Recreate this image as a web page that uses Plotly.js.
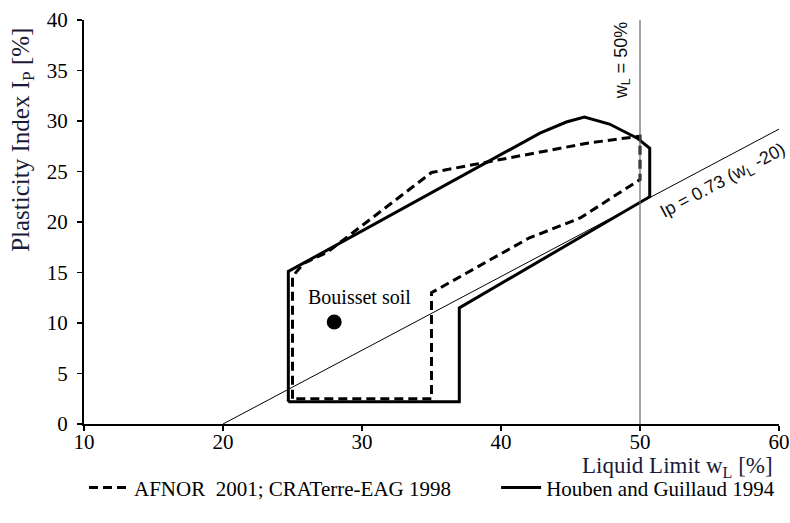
<!DOCTYPE html>
<html>
<head>
<meta charset="utf-8">
<script src="https://cdn.plot.ly/plotly-3.0.1.min.js"></script>
<style>html,body{margin:0;padding:0;background:#fff;}#chart{width:790px;height:523px;}</style>
</head>
<body>
<div id="chart"></div>
<script>
// AFNOR 2001; CRATerre-EAG 1998 (dashed zone)
var afnorWL = [25.0, 25.0, 25.8, 27.5, 35.0, 39.7, 46.2, 50.0, 50.0, 45.7, 42.0, 35.0, 35.0, 25.0];
var afnorIP = [2.5, 14.6, 15.9, 17.0, 24.9, 26.1, 27.8, 28.5, 24.2, 20.4, 18.4, 13.0, 2.5, 2.5];
// Houben and Guillaud 1994 (solid zone)
var houbenWL = [24.7, 24.7, 42.8, 44.7, 46.0, 47.8, 49.8, 50.7, 50.7, 37.0, 37.0, 24.7];
var houbenIP = [2.2, 15.1, 28.8, 29.9, 30.4, 29.7, 28.3, 27.3, 22.5, 11.5, 2.2, 2.2];
// A-line Ip = 0.73 (wL - 20)
var aLineWL = [20, 60];
var aLineIP = [0, 29.2];
// wL = 50 % line
var wl50WL = [50, 50];
var wl50IP = [0, 40];
// Bouisset soil
var soilWL = [28];
var soilIP = [10.1];
var soilName = "Bouisset soil";
var legendNames = ["AFNOR  2001; CRATerre-EAG 1998", "Houben and Guillaud 1994"];

var serif = "Liberation Serif, Times New Roman, serif";
var sans = "Liberation Sans, Arial, sans-serif";

var traces = [
  {x: afnorWL, y: afnorIP, mode: "lines", name: legendNames[0], legend: "legend",
   line: {color: "#000", width: 3, dash: "9px,5px"}, hoverinfo: "skip"},
  {x: houbenWL, y: houbenIP, mode: "lines", name: legendNames[1], legend: "legend2",
   line: {color: "#000", width: 3}, hoverinfo: "skip"},
  {x: aLineWL, y: aLineIP, mode: "lines", showlegend: false,
   line: {color: "#000", width: 1}},
  {x: wl50WL, y: wl50IP, mode: "lines", showlegend: false,
   line: {color: "#666", width: 1.2}},
  {x: soilWL, y: soilIP, mode: "markers", showlegend: false,
   marker: {color: "#000", size: 15, symbol: "circle"}}
];

var legendFont = {family: serif, size: 21, color: "#000"};

var layout = {
  width: 790, height: 523,
  margin: {l: 84, r: 11, t: 20, b: 99, autoexpand: false},
  paper_bgcolor: "#fff", plot_bgcolor: "#fff",
  font: {family: serif, size: 20, color: "#000"},
  xaxis: {range: [10, 60], dtick: 10, tick0: 10, showgrid: false, zeroline: false,
          showline: true, linecolor: "#000", linewidth: 2,
          ticks: "outside", ticklen: 5, tickwidth: 1.5, tickcolor: "#000",
          ticklabelstandoff: -7,
          tickfont: {family: serif, size: 21, color: "#000"}},
  yaxis: {range: [0, 40], dtick: 5, showgrid: false, zeroline: false,
          showline: true, linecolor: "#000", linewidth: 2,
          ticks: "outside", ticklen: 5, tickwidth: 1.5, tickcolor: "#000",
          ticklabelstandoff: 5,
          tickfont: {family: serif, size: 21, color: "#000"}},
  showlegend: true,
  legend: {orientation: "h", x: 0.0, xanchor: "left", y: -0.158, yanchor: "middle",
           font: legendFont, itemwidth: 40, bgcolor: "rgba(0,0,0,0)"},
  legend2: {orientation: "h", x: 0.593, xanchor: "left", y: -0.158, yanchor: "middle",
           font: legendFont, itemwidth: 40, bgcolor: "rgba(0,0,0,0)"},
  annotations: [
    {xref: "paper", yref: "paper", x: -0.088, y: 0.703, text: "Plasticity Index I<sub>P</sub> [%]",
     textangle: -90, showarrow: false, xanchor: "center", yanchor: "middle",
     font: {family: serif, size: 25, color: "#1a1a3a"}},
    {xref: "paper", yref: "paper", x: 0.994, y: -0.106, text: "Liquid Limit w<sub>L</sub> [%]",
     showarrow: false, xanchor: "right", yanchor: "middle",
     font: {family: serif, size: 23, color: "#1a1a3a"}},
    {xref: "x", yref: "y", x: 29.8, y: 12.6, text: soilName, showarrow: false,
     font: {family: serif, size: 20, color: "#000"}},
    {xref: "x", yref: "y", x: 48.7, y: 36.0, text: "w<sub>L</sub> = 50%", textangle: -90,
     showarrow: false, font: {family: sans, size: 18, color: "#111"}},
    {xref: "x", yref: "y", x: 56.0, y: 24.0, text: "Ip = 0.73 (w<sub>L</sub> -20)", textangle: -28,
     showarrow: false, font: {family: sans, size: 18, color: "#111"}}
  ]
};

Plotly.newPlot("chart", traces, layout, {staticPlot: true, displayModeBar: false});
</script>
</body>
</html>
